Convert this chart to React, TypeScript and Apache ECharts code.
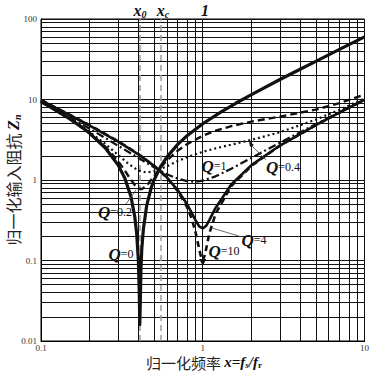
import React, { useEffect, useRef } from 'react';
import * as echarts from 'echarts';

// Normalized frequency / impedance samples
const xQ0 = [0.1, 0.12, 0.15, 0.18, 0.2, 0.25, 0.3, 0.33, 0.36, 0.38, 0.39, 0.4, 0.405, 0.408, 0.411, 0.415, 0.42, 0.43, 0.45, 0.48, 0.5, 0.55, 0.6, 0.7, 0.8, 1.0, 1.3, 1.6, 2, 3, 4, 5, 7, 10];
const zQ0 = [9.4, 7.61, 5.77, 4.48, 3.8, 2.5, 1.53, 1.05, 0.62, 0.35, 0.22, 0.1, 0.04, 0.016, 0.03, 0.08, 0.14, 0.25, 0.48, 0.8, 1.0, 1.48, 1.93, 2.77, 3.55, 5.0, 7.03, 8.98, 11.5, 17.7, 23.75, 29.8, 41.9, 59.9];

const xQ02 = [0.1, 0.15, 0.2, 0.25, 0.3, 0.33, 0.36, 0.38, 0.4, 0.42, 0.45, 0.5, 0.55, 0.6, 0.7, 0.8, 1.0, 1.2, 1.5, 2, 3, 5, 7, 10];
const zQ02 = [9.41, 5.79, 3.84, 2.59, 1.71, 1.31, 1.0, 0.865, 0.786, 0.77, 0.848, 1.12, 1.44, 1.75, 2.31, 2.79, 3.54, 4.09, 4.67, 5.32, 6.13, 7.5, 9.0, 11.5];

const xQ04 = [0.1, 0.15, 0.2, 0.25, 0.3, 0.35, 0.4, 0.45, 0.5, 0.6, 0.7, 0.8, 1.0, 1.2, 1.5, 2, 3, 5, 7, 10];
const zQ04 = [9.42, 5.83, 3.95, 2.8, 2.04, 1.57, 1.31, 1.24, 1.28, 1.48, 1.72, 1.92, 2.24, 2.47, 2.75, 3.15, 3.92, 5.62, 7.46, 10.3];

const xQ1 = [0.1, 0.15, 0.2, 0.25, 0.3, 0.35, 0.4, 0.45, 0.5, 0.6, 0.7, 0.8, 0.9, 1.0, 1.2, 1.5, 2, 3, 5, 7, 10];
const zQ1 = [9.5, 6.05, 4.33, 3.32, 2.66, 2.21, 1.88, 1.63, 1.44, 1.18, 1.04, 0.97, 0.95, 0.98, 1.11, 1.38, 1.88, 2.91, 4.94, 6.96, 9.97];

const xQ4 = [0.1, 0.2, 0.3, 0.4, 0.5, 0.6, 0.7, 0.8, 0.85, 0.9, 0.95, 1.0, 1.05, 1.1, 1.2, 1.5, 2, 3, 5, 7, 10];
const zQ4 = [9.8, 4.75, 3.0, 2.08, 1.5, 1.08, 0.75, 0.5, 0.4, 0.32, 0.265, 0.25, 0.27, 0.32, 0.45, 0.88, 1.53, 2.68, 4.81, 6.86, 9.9];

const xQ10 = [0.1, 0.2, 0.3, 0.4, 0.5, 0.6, 0.7, 0.8, 0.85, 0.9, 0.95, 0.97, 1.0, 1.03, 1.05, 1.1, 1.2, 1.5, 2, 3, 5, 7, 10];
const zQ10 = [9.88, 4.79, 3.03, 2.1, 1.5, 1.07, 0.73, 0.46, 0.34, 0.23, 0.14, 0.116, 0.1, 0.117, 0.14, 0.22, 0.38, 0.84, 1.5, 2.67, 4.8, 6.86, 9.9];

// Grid / reference lines
const xMinorGrid = [0.2, 0.3, 0.4, 0.5, 0.6, 0.7, 0.8, 0.9, 2, 3, 4, 5, 6, 7, 8, 9];
const yMinorGrid = [0.02, 0.03, 0.04, 0.05, 0.06, 0.07, 0.08, 0.09, 0.2, 0.3, 0.4, 0.5, 0.6, 0.7, 0.8, 0.9, 2, 3, 4, 5, 6, 7, 8, 9, 20, 30, 40, 50, 60, 70, 80, 90];
const xRefLines = [0.41, 0.55];
const xTickLabels = ['0.1', '1', '10'];
const yTickLabels = ['0.01', '0.1', '1', '10', '100'];

const pairs = (xs: number[], ys: number[]) => xs.map((x, i) => [x, ys[i]]);

const SERIF = '"Liberation Serif", "Times New Roman", serif';
const CJK = '"Noto Sans CJK SC", sans-serif';

const pickLabel = (labels: string[], v: number) => {
  let best = labels[0];
  let bd = Infinity;
  for (const l of labels) {
    const d = Math.abs(Math.log10(parseFloat(l)) - Math.log10(v));
    if (d < bd) { bd = d; best = l; }
  }
  return best;
};

const qRich = {
  q: { fontFamily: SERIF, fontSize: 17, fontStyle: 'italic', fontWeight: 'bold', fill: '#111' },
  v: { fontFamily: SERIF, fontSize: 12, fill: '#111' },
};

const qLabel = (text: string, x: number, y: number) => ({
  type: 'text', x, y, z: 20,
  style: { text, rich: qRich, align: 'center', verticalAlign: 'middle' },
});

const leader = (x1: number, y1: number, x2: number, y2: number) => ({
  type: 'line', z: 20,
  shape: { x1, y1, x2, y2 },
  style: { stroke: '#444', lineWidth: 0.8 },
});

const subRich = (size: number, lh: number) => ({
  i: { fontFamily: SERIF, fontSize: size, fontStyle: 'italic', fontWeight: 'bold', fill: '#111', lineHeight: lh },
  s: { fontFamily: SERIF, fontSize: Math.round(size * 0.62), fontStyle: 'italic', fontWeight: 'bold', fill: '#111', lineHeight: lh, verticalAlign: 'bottom' },
  r: { fontFamily: SERIF, fontSize: Math.round(size * 0.62), fontWeight: 'bold', fill: '#111', lineHeight: lh, verticalAlign: 'bottom' },
  c: { fontFamily: CJK, fontSize: size, fill: '#222', lineHeight: lh },
});

export default function App() {
  const ref = useRef<HTMLDivElement>(null);
  useEffect(() => {
    const chart = echarts.init(ref.current!, null, { renderer: 'svg' });
    const curve = (name: string, xs: number[], ys: number[], width: number, type: any, extra: any = {}) => ({
      name, type: 'line', data: pairs(xs, ys), symbol: 'none', showSymbol: false, z: 5,
      lineStyle: { color: '#111', width, type, cap: 'butt', join: 'round' },
      itemStyle: { color: '#111' },
      ...extra,
    });
    chart.setOption({
      animation: false,
      backgroundColor: '#fff',
      grid: { left: 41, right: 6, top: 19, bottom: 32, show: true, borderColor: '#000', borderWidth: 1 },
      xAxis: {
        type: 'log', logBase: 10, min: 0.1, max: 10, splitNumber: 2,
        axisLine: { show: true, lineStyle: { color: '#000', width: 1 } },
        axisTick: { show: false },
        splitLine: { show: true, lineStyle: { color: '#111', width: 1 } },
        axisLabel: { fontFamily: SERIF, fontSize: 9, color: '#333', margin: 2, formatter: (v: number) => pickLabel(xTickLabels, v) },
      },
      yAxis: {
        type: 'log', logBase: 10, min: 0.01, max: 100, splitNumber: 4,
        axisLine: { show: true, lineStyle: { color: '#000', width: 1 } },
        axisTick: { show: false },
        splitLine: { show: true, lineStyle: { color: '#111', width: 1 } },
        axisLabel: { fontFamily: SERIF, fontSize: 9, color: '#333', margin: 4, formatter: (v: number) => pickLabel(yTickLabels, v) },
      },
      series: [
        {
          type: 'line', data: [[1, 1]], symbol: 'none', z: 1, silent: true,
          lineStyle: { opacity: 0 },
          markLine: {
            silent: true, symbol: 'none', animation: false,
            label: { show: false },
            lineStyle: { color: '#111', width: 1, type: 'solid' },
            data: [
              ...xMinorGrid.map((v) => ({ xAxis: v })),
              ...yMinorGrid.map((v) => ({ yAxis: v })),
              ...xRefLines.map((v) => ({ xAxis: v, lineStyle: { color: '#9a9a9a', width: 1.5, type: [6, 4] } })),
            ],
          },
        },
        curve('Q=0', xQ0, zQ0, 3.2, 'solid'),
        curve('Q=0.2', xQ02, zQ02, 2.4, [7, 4]),
        curve('Q=0.4', xQ04, zQ04, 2.2, [2, 3]),
        curve('Q=1', xQ1, zQ1, 2.2, [8, 3, 2, 3]),
        curve('Q=4', xQ4, zQ4, 2.6, 'solid'),
        curve('Q=10', xQ10, zQ10, 2.6, [6, 4], {
          markPoint: {
            symbol: 'triangle', symbolSize: 7, symbolRotate: 180, symbolOffset: [0, 2],
            itemStyle: { color: '#111' }, label: { show: false },
            data: [{ type: 'min', valueDim: 'y' }],
          },
        }),
      ],
      graphic: [
        {
          type: 'text', x: 140, y: 10, z: 20,
          style: { text: '{i|x}{s|0}', align: 'center', verticalAlign: 'middle', rich: subRich(16, 18) },
        },
        {
          type: 'text', x: 163, y: 10, z: 20,
          style: { text: '{i|x}{s|c}', align: 'center', verticalAlign: 'middle', rich: subRich(16, 18) },
        },
        {
          type: 'text', x: 205, y: 10, z: 20,
          style: { text: '1', font: `italic bold 16px ${SERIF}`, fill: '#111', align: 'center', verticalAlign: 'middle' },
        },
        {
          type: 'text', x: 13, y: 180, z: 20, rotation: Math.PI / 2,
          style: {
            text: '{c|归一化输入阻抗 }{i|Z}{s|n}', align: 'center', verticalAlign: 'middle',
            rich: subRich(16, 18),
          },
        },
        {
          type: 'text', x: 204, y: 362, z: 20,
          style: {
            text: '{c|归一化频率 }{i|x=f}{s|s}{i|/f}{r|r}', align: 'center', verticalAlign: 'middle',
            rich: subRich(15, 15),
          },
        },
        qLabel('{q|Q}{v|=0.2}', 115, 212),
        qLabel('{q|Q}{v|=0}', 121, 254),
        qLabel('{q|Q}{v|=10}', 224, 251),
        qLabel('{q|Q}{v|=4}', 254, 240),
        qLabel('{q|Q}{v|=1}', 214, 166),
        qLabel('{q|Q}{v|=0.4}', 283, 167),
        leader(126, 204, 136, 190),
        leader(212, 228, 242, 237),
        leader(266, 160, 251, 145),
        {
          type: 'polygon', z: 20,
          shape: { points: [[249, 141], [254, 145], [250, 147]] },
          style: { fill: '#111' },
        },
      ],
    });
    return () => chart.dispose();
  }, []);
  return <div ref={ref} style={{ position: 'fixed', left: 0, top: 0, width: 372, height: 373, background: '#fff' }} />;
}
